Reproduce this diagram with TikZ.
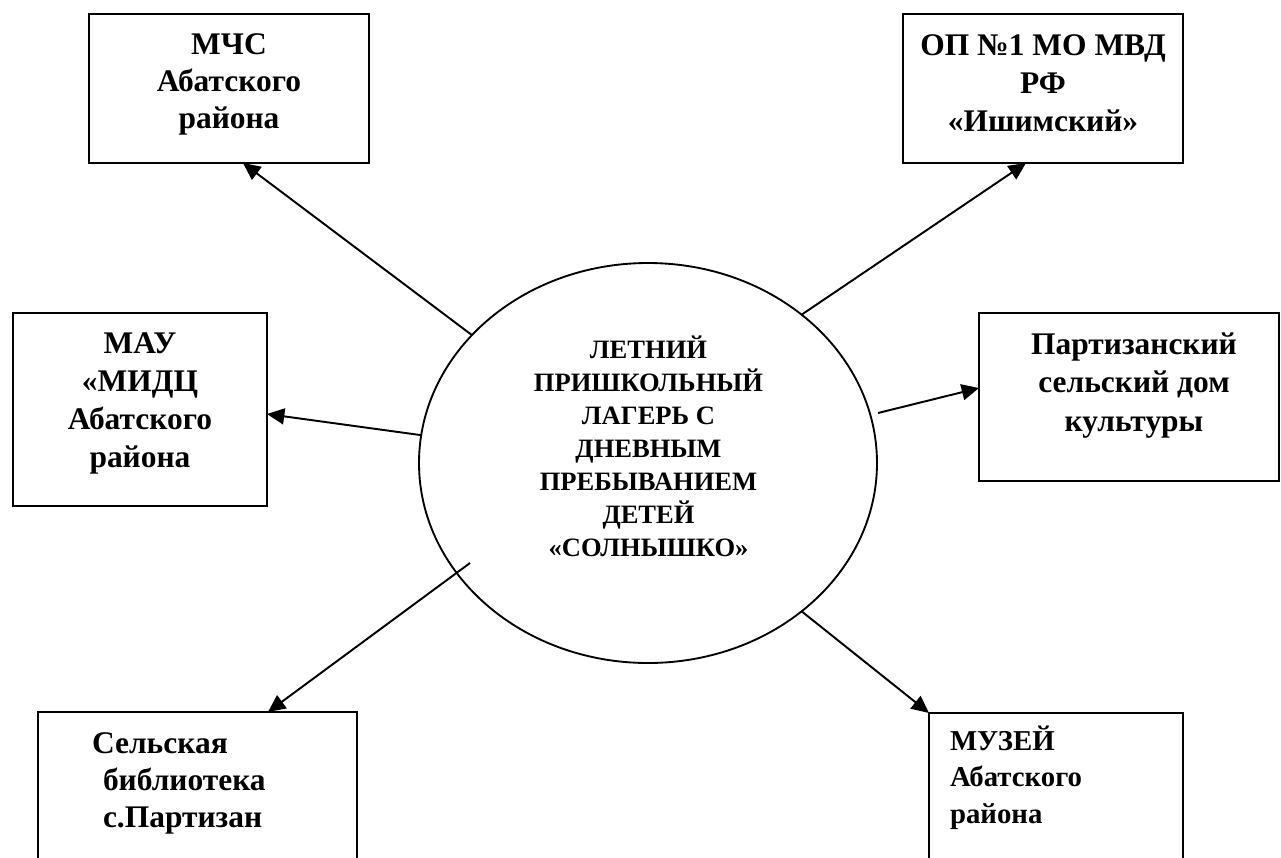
\documentclass[tikz,border=0pt]{standalone}
\usepackage{fontspec}
\setmainfont{Liberation Serif}
\usetikzlibrary{arrows.meta,calc,shapes.geometric}
\begin{document}
\begin{tikzpicture}[x=0.75pt,y=-0.75pt,
  box/.style={draw, line width=1.5pt, rectangle, inner sep=0pt, outer sep=0pt},
  lbl/.style={inner sep=0pt, outer sep=0pt, anchor=base},
  bigfont/.style={font=\fontsize{23.6pt}{#1}\selectfont\bfseries},
  conn/.style={line width=1.45pt, -{Triangle[length=13pt,width=12pt]}},
]
\clip (0,0) rectangle (1281,857);
\fill[white] (0,0) rectangle (1281,857);

% central ellipse
\node[draw, ellipse, line width=1.4pt, minimum width=343.5pt, minimum height=300pt,
      inner sep=0pt, outer sep=0pt] (camp) at (648,463) {};
\node[lbl, font=\fontsize{19.9pt}{24.75pt}\selectfont\bfseries] (campT) at (648.5,358)
  {\begin{tabular}[t]{@{}c@{}}ЛЕТНИЙ\\ПРИШКОЛЬНЫЙ\\ЛАГЕРЬ С\\ДНЕВНЫМ\\ПРЕБЫВАНИЕМ\\ДЕТЕЙ\\«СОЛНЫШКО»\end{tabular}};

% boxes
\node[box, minimum width=210pt, minimum height=111.75pt] (mchs) at (229,88.5) {};
\node[box, minimum width=210pt, minimum height=111.75pt] (op) at (1043,88.5) {};
\node[box, minimum width=190.5pt, minimum height=144.75pt] (mau) at (140,409.5) {};
\node[box, minimum width=225pt, minimum height=126pt] (part) at (1129,397) {};
\node[box, minimum width=239.25pt, minimum height=127.5pt] (sel) at (197.5,797) {};
\node[box, minimum width=190.5pt, minimum height=127.5pt] (muz) at (1056,798) {};

% box labels
\node[lbl, bigfont=27.75pt] (mchsT) at (229,54)
  {\begin{tabular}[t]{@{}c@{}}МЧС\\Абатского\\района\end{tabular}};
\node[lbl, bigfont=28.7pt] (opT) at (1043,55)
  {\begin{tabular}[t]{@{}c@{}}ОП №1 МО МВД\\РФ\\«Ишимский»\end{tabular}};
\node[lbl, bigfont=28.7pt] (mauT) at (140,353)
  {\begin{tabular}[t]{@{}c@{}}МАУ\\«МИДЦ\\Абатского\\района\end{tabular}};
\node[lbl, bigfont=29.1pt] (partT) at (1134,354)
  {\begin{tabular}[t]{@{}c@{}}Партизанский\\сельский дом\\культуры\end{tabular}};
\node[lbl, anchor=base west, bigfont=27.75pt] (selT) at (92,753)
  {\begin{tabular}[t]{@{}l@{}}Сельская\\\hspace*{8.25pt}библиотека\\\hspace*{8.25pt}с.Партизан\end{tabular}};
\node[lbl, anchor=base west, font=\fontsize{21.6pt}{27.4pt}\selectfont\bfseries] (muzT) at (950,750)
  {\begin{tabular}[t]{@{}l@{}}МУЗЕЙ\\Абатского\\района\end{tabular}};

% free start points of two connectors
\coordinate (partS) at (878,413);
\coordinate (selS) at (470,563);

% connectors
\draw[conn] (camp.144.7) -- ($(mchs.south)+(14,0)$);
\draw[conn] (camp.44.2) -- ($(op.south)+(-17,0)$);
\draw[conn] (camp.173.5) -- ($(mau.east)+(0,4.5)$);
\draw[conn] (partS) -- ($(part.west)+(0,-9)$);
\draw[conn] (selS) -- ($(sel.north)+(70.5,0)$);
\draw[conn] (camp.-44) -- (muz.north west);
\end{tikzpicture}
\end{document}
